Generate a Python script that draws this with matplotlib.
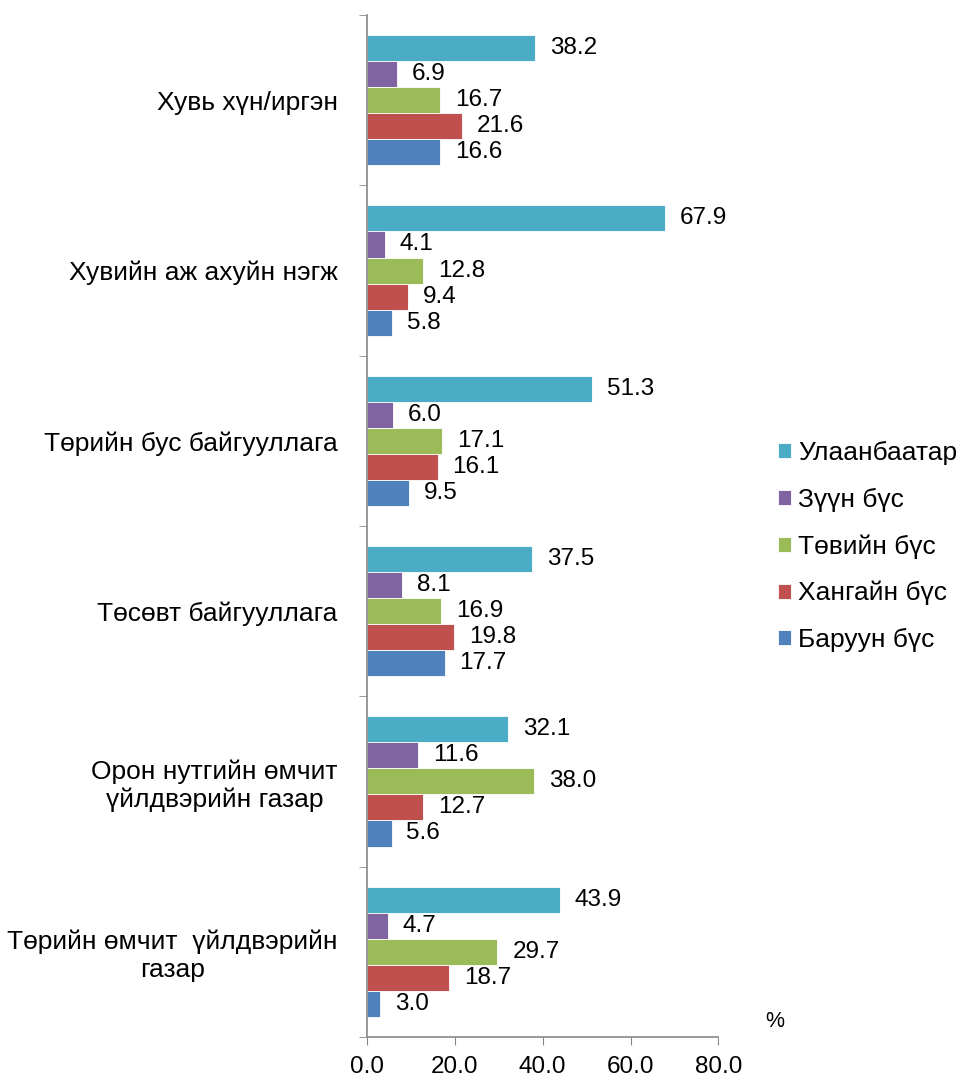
import numpy as np
import matplotlib.pyplot as plt

plt.rcParams['font.family'] = ['Liberation Sans', 'DejaVu Sans']

# Ангилал (доороос дээш)
categories = [
    "Төрийн өмчит  үйлдвэрийн\nгазар",
    "Орон нутгийн өмчит\nүйлдвэрийн газар",
    "Төсөвт байгууллага",
    "Төрийн бус байгууллага",
    "Хувийн аж ахуйн нэгж",
    "Хувь хүн/иргэн",
]

# Бүс нутгууд (дээрээс доош)
regions = ["Улаанбаатар", "Зүүн бүс", "Төвийн бүс", "Хангайн бүс", "Баруун бүс"]
colors = ["#4BACC6", "#8064A2", "#9BBB59", "#C0504D", "#4F81BD"]

ulaanbaatar = [43.9, 32.1, 37.5, 51.3, 67.9, 38.2]
zuun = [4.7, 11.6, 8.1, 6.0, 4.1, 6.9]
tuviin = [29.7, 38.0, 16.9, 17.1, 12.8, 16.7]
khangain = [18.7, 12.7, 19.8, 16.1, 9.4, 21.6]
baruun = [3.0, 5.6, 17.7, 9.5, 5.8, 16.6]
series = [ulaanbaatar, zuun, tuviin, khangain, baruun]

fs_val = 17.5
fs_cat = 19
fig = plt.figure(figsize=(9.63, 10.8), dpi=100)
ax = fig.add_axes([0.381, 0.040, 0.365, 0.946])

y = np.arange(len(categories))
h = 0.153
for k, (name, vals, col) in enumerate(zip(regions, series, colors)):
    pos = y + (2 - k) * h
    bars = ax.barh(pos, vals, height=h, color=col, edgecolor='white',
                   linewidth=0.6, label=name)
    for b, v in zip(bars, vals):
        ax.text(v + 3.4, b.get_y() + h / 2, f"{v:.1f}", va='center',
                ha='left', fontsize=fs_val)

ax.set_xlim(0, 80)
ax.set_ylim(-0.5, len(categories) - 0.5)
ax.set_xticks([0, 20, 40, 60, 80])
ax.set_xticklabels([f"{t:.1f}" for t in [0, 20, 40, 60, 80]], fontsize=fs_val)
ax.set_yticks(y)
ax.set_yticklabels(categories, fontsize=fs_cat, multialignment='center')
ax.tick_params(axis='y', length=0, pad=21)
ax.set_yticks(np.arange(-0.5, len(categories)), minor=True)
ax.tick_params(axis='y', which='minor', length=6, color='#888888', direction='out')
ax.tick_params(axis='x', length=6, color='#888888', direction='out', pad=8)

for s in ['top', 'right']:
    ax.spines[s].set_visible(False)
for s in ['left', 'bottom']:
    ax.spines[s].set_color('#888888')
    ax.spines[s].set_linewidth(1.2)

fig.text(0.805, 0.054, "%", fontsize=fs_val - 2, ha='center', va='center')

handles, labels = ax.get_legend_handles_labels()
fig.legend(handles, labels, loc='center left', bbox_to_anchor=(0.808, 0.494),
           frameon=False, fontsize=fs_cat, handlelength=0.5, handleheight=0.5,
           handletextpad=0.27, labelspacing=0.85, borderaxespad=0, borderpad=0)

fig.savefig("out.png", dpi=100)
